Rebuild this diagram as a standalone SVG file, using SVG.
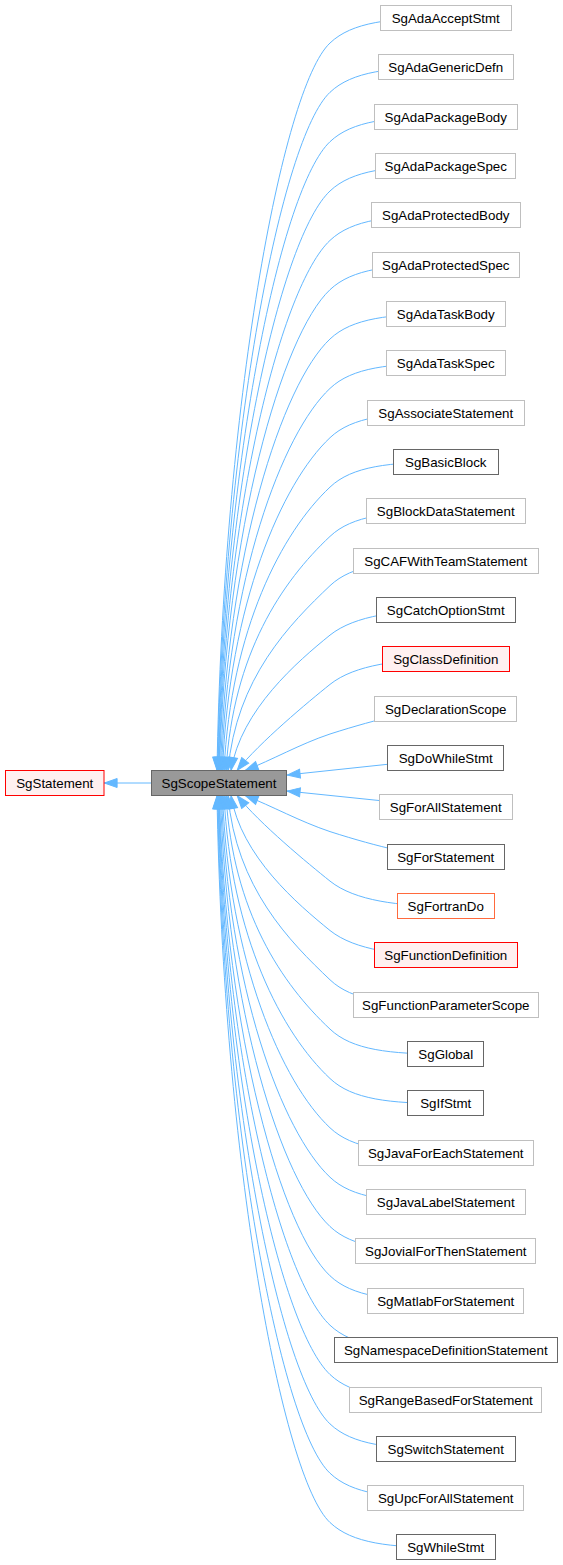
<svg xmlns="http://www.w3.org/2000/svg" width="563" height="1565" viewBox="0 0 563 1565">
<style>
text{font-family:"Liberation Sans",Arial,Helvetica,sans-serif;font-size:13.33px;text-anchor:middle;fill:#000}
rect{stroke-width:1}
.g rect{fill:#fff;stroke:#bfbfbf}
.d rect{fill:#fff;stroke:#666}
.r rect{fill:#fff0f0;stroke:#f00}
.o rect{fill:#fff;stroke:#ff6a3d}
.p rect{fill:#999;stroke:#666}
#edges path{fill:none;stroke:#63b8ff;stroke-width:1;marker-end:url(#ah)}
</style>
<defs>
<marker id="ah" markerUnits="userSpaceOnUse" viewBox="0 0 14 10" markerWidth="14" markerHeight="10" refX="13.6" refY="4.7" orient="auto" overflow="visible">
<path d="M0.5,0.2 L13.3,4.7 L0.5,9.2 Z" fill="#63b8ff" stroke="#63b8ff" stroke-width="1"/>
</marker>
</defs>
<rect width="563" height="1565" fill="#fff"/>
<g id="edges">
<path d="M151,783 L104,783"/>
<path d="M445.75,18 C390,18 352,22 330,43 C282,88 223,406.8 217,770.5"/>
<path d="M445.75,67.3 C390,67.3 352,71.3 330,92.3 C282,137.3 223.5,431.4 217.5,770.5"/>
<path d="M445.75,116.7 C390,116.7 352,120.7 330,141.7 C282,186.7 224,456.1 218,770.5"/>
<path d="M445.75,166 C390,166 352,170 330,191 C282,236 224.5,480.8 218.5,770.5"/>
<path d="M445.75,215.4 C390,215.4 352,219.4 330,240.4 C282,285.4 225,505.5 219,770.5"/>
<path d="M445.75,264.7 C390,264.7 352,268.7 330,289.7 C282,334.7 225.5,530.1 219.5,770.5"/>
<path d="M445.75,314 C390,314 352,318 330,339 C282,384 226.5,554.8 220.5,770.5"/>
<path d="M445.75,363.4 C390,363.4 352,367.4 330,388.4 C282,433.4 227.5,579.5 221.5,770.5"/>
<path d="M445.75,412.7 C390,412.7 352,416.7 330,437.7 C282,482.7 229,604.1 222.5,770.5"/>
<path d="M445.75,462.1 C390,462.1 352,466.1 330,487.1 C282,532.1 231,628.8 224,770.5"/>
<path d="M445.75,511.4 C390,511.4 352,515.4 330,536.4 C282,581.4 233,653.5 226,770.5"/>
<path d="M445.75,560.7 C390,560.7 352,564.7 330,585.7 C290,623.7 236,678.1 228,770.5"/>
<path d="M445.75,610.1 C400,610.1 355,615.1 330,635.1 C298,661.1 241,709.6 231,770.5"/>
<path d="M445.75,659.4 C400,659.4 355,664.4 330,684.4 C308,702 260,742 237,770.5"/>
<path d="M445.75,708.8 C420,709 380,718 330,734 C300,744 272,760 245,770.5"/>
<path d="M445.75,758.1 L287,775"/>
<path d="M445.75,807.4 L287,791"/>
<path d="M445.75,856.8 C420,856.6 380,847.6 330,831.6 C300,821.6 272,806 245,795.5"/>
<path d="M445.75,906.1 C400,906.1 355,901.1 330,881.1 C308,863.5 260,824 237,795.5"/>
<path d="M445.75,955.5 C400,955.5 355,950.5 330,930.5 C298,904.5 241,856.4 231,795.5"/>
<path d="M445.75,1004.8 C390,1004.8 352,1000.8 330,979.8 C290,941.8 236,887.7 228,795.5"/>
<path d="M445.75,1054.1 C390,1054.1 352,1050.1 330,1029.1 C282,984.1 233,912.3 226,795.5"/>
<path d="M445.75,1103.5 C390,1103.5 352,1099.5 330,1078.5 C282,1033.5 231,937 224,795.5"/>
<path d="M445.75,1152.8 C390,1152.8 352,1148.8 330,1127.8 C282,1082.8 229,961.7 222.5,795.5"/>
<path d="M445.75,1202.2 C390,1202.2 352,1198.2 330,1177.2 C282,1132.2 227.5,986.4 221.5,795.5"/>
<path d="M445.75,1251.5 C390,1251.5 352,1247.5 330,1226.5 C282,1181.5 226.5,1011 220.5,795.5"/>
<path d="M445.75,1300.8 C390,1300.8 352,1296.8 330,1275.8 C282,1230.8 225.5,1035.7 219.5,795.5"/>
<path d="M445.75,1350.2 C390,1350.2 352,1346.2 330,1325.2 C282,1280.2 225,1060.4 219,795.5"/>
<path d="M445.75,1399.5 C390,1399.5 352,1395.5 330,1374.5 C282,1329.5 224.5,1085 218.5,795.5"/>
<path d="M445.75,1448.9 C390,1448.9 352,1444.9 330,1423.9 C282,1378.9 224,1109.7 218,795.5"/>
<path d="M445.75,1498.2 C390,1498.2 352,1494.2 330,1473.2 C282,1428.2 223.5,1134.4 217.5,795.5"/>
<path d="M445.75,1547.5 C390,1547.5 352,1543.5 330,1522.5 C282,1477.5 223,1159 217,795.5"/>
</g>
<g id="node_SgStatement" class="r"><rect x="5.5" y="770.5" width="98.5" height="25"/><text x="54.75" y="787.5">SgStatement</text></g>
<g id="node_SgScopeStatement" class="p"><rect x="151.5" y="770.5" width="135" height="25"/><text x="219" y="787.5">SgScopeStatement</text></g>
<g id="node_SgAdaAcceptStmt" class="g" transform="translate(0,18)"><rect x="380.5" y="-12.5" width="131" height="25"/><text x="445.75" y="4.5">SgAdaAcceptStmt</text></g>
<g id="node_SgAdaGenericDefn" class="g" transform="translate(0,67)"><rect x="378.5" y="-12.5" width="135" height="25"/><text x="445.75" y="4.5">SgAdaGenericDefn</text></g>
<g id="node_SgAdaPackageBody" class="g" transform="translate(0,117)"><rect x="374.5" y="-12.5" width="143" height="25"/><text x="445.75" y="4.5">SgAdaPackageBody</text></g>
<g id="node_SgAdaPackageSpec" class="g" transform="translate(0,166)"><rect x="375.5" y="-12.5" width="140" height="25"/><text x="445.75" y="4.5">SgAdaPackageSpec</text></g>
<g id="node_SgAdaProtectedBody" class="g" transform="translate(0,215)"><rect x="371.5" y="-12.5" width="149" height="25"/><text x="445.75" y="4.5">SgAdaProtectedBody</text></g>
<g id="node_SgAdaProtectedSpec" class="g" transform="translate(0,265)"><rect x="372.5" y="-12.5" width="147" height="25"/><text x="445.75" y="4.5">SgAdaProtectedSpec</text></g>
<g id="node_SgAdaTaskBody" class="g" transform="translate(0,314)"><rect x="386.5" y="-12.5" width="119" height="25"/><text x="445.75" y="4.5">SgAdaTaskBody</text></g>
<g id="node_SgAdaTaskSpec" class="g" transform="translate(0,363)"><rect x="386.5" y="-12.5" width="119" height="25"/><text x="445.75" y="4.5">SgAdaTaskSpec</text></g>
<g id="node_SgAssociateStatement" class="g" transform="translate(0,413)"><rect x="367.5" y="-12.5" width="157" height="25"/><text x="445.75" y="4.5">SgAssociateStatement</text></g>
<g id="node_SgBasicBlock" class="d" transform="translate(0,462)"><rect x="393.5" y="-12.5" width="105" height="25"/><text x="445.75" y="4.5">SgBasicBlock</text></g>
<g id="node_SgBlockDataStatement" class="g" transform="translate(0,511)"><rect x="366.5" y="-12.5" width="159" height="25"/><text x="445.75" y="4.5">SgBlockDataStatement</text></g>
<g id="node_SgCAFWithTeamStatement" class="g" transform="translate(0,561)"><rect x="353.5" y="-12.5" width="185" height="25"/><text x="445.75" y="4.5">SgCAFWithTeamStatement</text></g>
<g id="node_SgCatchOptionStmt" class="d" transform="translate(0,610)"><rect x="376.5" y="-12.5" width="139" height="25"/><text x="445.75" y="4.5">SgCatchOptionStmt</text></g>
<g id="node_SgClassDefinition" class="r" transform="translate(0,659)"><rect x="382.5" y="-12.5" width="127" height="25"/><text x="445.75" y="4.5">SgClassDefinition</text></g>
<g id="node_SgDeclarationScope" class="g" transform="translate(0,709)"><rect x="374.5" y="-12.5" width="142" height="25"/><text x="445.75" y="4.5">SgDeclarationScope</text></g>
<g id="node_SgDoWhileStmt" class="d" transform="translate(0,758)"><rect x="387.5" y="-12.5" width="116" height="25"/><text x="445.75" y="4.5">SgDoWhileStmt</text></g>
<g id="node_SgForAllStatement" class="g" transform="translate(0,807)"><rect x="379.5" y="-12.5" width="133" height="25"/><text x="445.75" y="4.5">SgForAllStatement</text></g>
<g id="node_SgForStatement" class="d" transform="translate(0,857)"><rect x="387.5" y="-12.5" width="117" height="25"/><text x="445.75" y="4.5">SgForStatement</text></g>
<g id="node_SgFortranDo" class="o" transform="translate(0,906)"><rect x="397.5" y="-12.5" width="97" height="25"/><text x="445.75" y="4.5">SgFortranDo</text></g>
<g id="node_SgFunctionDefinition" class="r" transform="translate(0,955)"><rect x="374.5" y="-12.5" width="143" height="25"/><text x="445.75" y="4.5">SgFunctionDefinition</text></g>
<g id="node_SgFunctionParameterScope" class="g" transform="translate(0,1005)"><rect x="353.5" y="-12.5" width="185" height="25"/><text x="445.75" y="4.5">SgFunctionParameterScope</text></g>
<g id="node_SgGlobal" class="d" transform="translate(0,1054)"><rect x="407.5" y="-12.5" width="76" height="25"/><text x="445.75" y="4.5">SgGlobal</text></g>
<g id="node_SgIfStmt" class="d" transform="translate(0,1103)"><rect x="407.5" y="-12.5" width="76" height="25"/><text x="445.75" y="4.5">SgIfStmt</text></g>
<g id="node_SgJavaForEachStatement" class="g" transform="translate(0,1153)"><rect x="358.5" y="-12.5" width="175" height="25"/><text x="445.75" y="4.5">SgJavaForEachStatement</text></g>
<g id="node_SgJavaLabelStatement" class="g" transform="translate(0,1202)"><rect x="366.5" y="-12.5" width="159" height="25"/><text x="445.75" y="4.5">SgJavaLabelStatement</text></g>
<g id="node_SgJovialForThenStatement" class="g" transform="translate(0,1251)"><rect x="355.5" y="-12.5" width="180" height="25"/><text x="445.75" y="4.5">SgJovialForThenStatement</text></g>
<g id="node_SgMatlabForStatement" class="g" transform="translate(0,1301)"><rect x="367.5" y="-12.5" width="156" height="25"/><text x="445.75" y="4.5">SgMatlabForStatement</text></g>
<g id="node_SgNamespaceDefinitionStatement" class="d" transform="translate(0,1350)"><rect x="334.5" y="-12.5" width="223" height="25"/><text x="445.75" y="4.5">SgNamespaceDefinitionStatement</text></g>
<g id="node_SgRangeBasedForStatement" class="g" transform="translate(0,1400)"><rect x="349.5" y="-12.5" width="192" height="25"/><text x="445.75" y="4.5">SgRangeBasedForStatement</text></g>
<g id="node_SgSwitchStatement" class="d" transform="translate(0,1449)"><rect x="376.5" y="-12.5" width="139" height="25"/><text x="445.75" y="4.5">SgSwitchStatement</text></g>
<g id="node_SgUpcForAllStatement" class="g" transform="translate(0,1498)"><rect x="367.5" y="-12.5" width="156" height="25"/><text x="445.75" y="4.5">SgUpcForAllStatement</text></g>
<g id="node_SgWhileStmt" class="d" transform="translate(0,1547)"><rect x="396.5" y="-12.5" width="99" height="25"/><text x="445.75" y="4.5">SgWhileStmt</text></g>
</svg>
